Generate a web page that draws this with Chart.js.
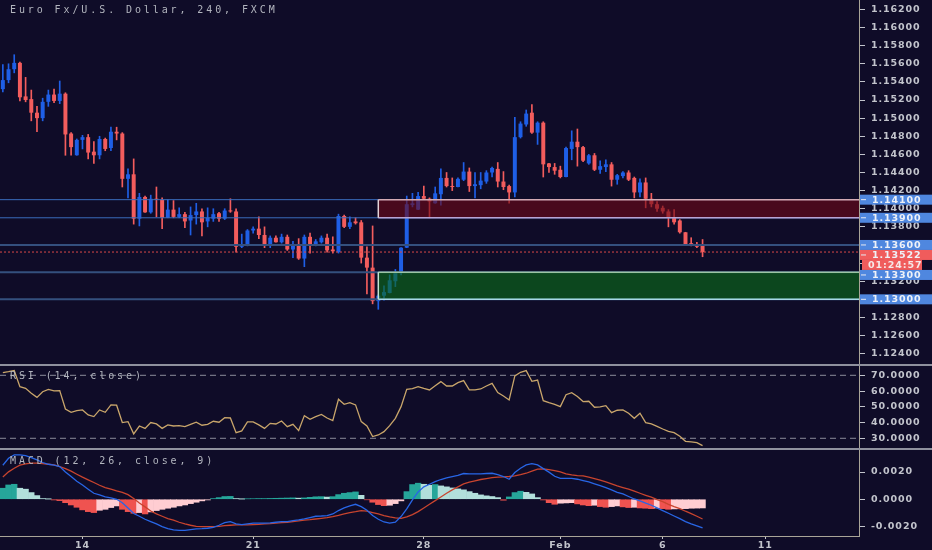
<!DOCTYPE html>
<html lang="en">
<head>
    <meta charset="UTF-8">
    <title>Euro Fx/U.S. Dollar, 240, FXCM</title>
    <script src="https://cdn.jsdelivr.net/npm/chart.js"></script>
    <style>
        html, body {
            margin: 0;
            padding: 0;
            background-color: #0f0c28;
            overflow: hidden;
        }

        .pane {
            position: absolute;
            left: 0;
            width: 932px;
        }

        .sep {
            position: absolute;
            left: 0;
            width: 932px;
            height: 2px;
            background-color: #8f919e;
        }
    </style>
</head>
<body>
<div class="pane" style="top: 0; height: 365px;"><canvas id="priceChart"></canvas></div>
<div class="pane" style="top: 365px; height: 84px;"><canvas id="rsiChart"></canvas></div>
<div class="pane" style="top: 450px; height: 100px;"><canvas id="macdChart"></canvas></div>
<div class="sep" style="top: 364px;"></div>
<div class="sep" style="top: 448px;"></div>

<script>
    // 4h candles, left to right
    const opens = [
        1.1532, 1.1542, 1.1554, 1.1561, 1.1524, 1.1521, 1.1506, 1.1500, 1.1518, 1.1526,
        1.1519, 1.1527, 1.1483, 1.1459, 1.1476, 1.1479, 1.1463, 1.1459, 1.1477, 1.1467,
        1.1485, 1.1483, 1.1433, 1.1438, 1.1389, 1.1413, 1.1396, 1.1411, 1.1410, 1.1390,
        1.1399, 1.1391, 1.1394, 1.1387, 1.1393, 1.1397, 1.1386, 1.1389, 1.1395, 1.1389,
        1.1398, 1.1397, 1.1358, 1.1359, 1.1376, 1.1378, 1.1371, 1.1359, 1.1368, 1.1363,
        1.1369, 1.1355, 1.1361, 1.1345, 1.1369, 1.1359, 1.1363, 1.1368, 1.1355, 1.1352,
        1.1392, 1.1380, 1.1386, 1.1385, 1.1346, 1.1335, 1.1298, 1.1304, 1.1307, 1.1320,
        1.1329, 1.1357, 1.1404, 1.1399, 1.1414, 1.1411, 1.1406, 1.1416, 1.1434, 1.1425,
        1.1424, 1.1432, 1.1441, 1.1425, 1.1426, 1.1430, 1.1440, 1.1444, 1.1430, 1.1425,
        1.1418, 1.1479, 1.1493, 1.1506, 1.1484, 1.1495, 1.1450, 1.1446, 1.1443, 1.1435,
        1.1466, 1.1474, 1.1468, 1.1450, 1.1459, 1.1443, 1.1446, 1.1449, 1.1432, 1.1436,
        1.1440, 1.1434, 1.1418, 1.1429, 1.1411, 1.1405, 1.1401, 1.1397, 1.1390, 1.1387,
        1.1374, 1.1362, 1.1361, 1.1359
    ];
    const highs = [
        1.1559, 1.1560, 1.1570, 1.1562, 1.1545, 1.1531, 1.1513, 1.1522, 1.1531, 1.1532,
        1.1541, 1.1528, 1.1484, 1.1477, 1.1481, 1.1482, 1.1474, 1.1480, 1.1478, 1.1490,
        1.1490, 1.1484, 1.1444, 1.1455, 1.1417, 1.1414, 1.1415, 1.1424, 1.1412, 1.1410,
        1.1409, 1.1401, 1.1396, 1.1402, 1.1406, 1.1400, 1.1401, 1.1400, 1.1396, 1.1400,
        1.1411, 1.1400, 1.1372, 1.1377, 1.1380, 1.1391, 1.1380, 1.1370, 1.1370, 1.1372,
        1.1371, 1.1364, 1.1367, 1.1371, 1.1373, 1.1366, 1.1370, 1.1372, 1.1369, 1.1394,
        1.1393, 1.1391, 1.1390, 1.1387, 1.1358, 1.1381, 1.1305, 1.1315, 1.1327, 1.1333,
        1.1357, 1.1414, 1.1417, 1.1418, 1.1425, 1.1412, 1.1424, 1.1444, 1.1440, 1.1434,
        1.1434, 1.1451, 1.1445, 1.1440, 1.1440, 1.1442, 1.1446, 1.1451, 1.1441, 1.1426,
        1.1501, 1.1496, 1.1509, 1.1515, 1.1496, 1.1496, 1.1450, 1.1450, 1.1447, 1.1468,
        1.1486, 1.1488, 1.1469, 1.1460, 1.1461, 1.1453, 1.1454, 1.1451, 1.1438, 1.1441,
        1.1442, 1.1435, 1.1433, 1.1434, 1.1417, 1.1408, 1.1403, 1.1399, 1.1399, 1.1388,
        1.1374, 1.1368, 1.1363, 1.1366
    ];
    const lows = [
        1.1529, 1.1539, 1.1550, 1.1519, 1.1518, 1.1497, 1.1485, 1.1497, 1.1513, 1.1517,
        1.1516, 1.1459, 1.1459, 1.1459, 1.1466, 1.1455, 1.1450, 1.1455, 1.1464, 1.1464,
        1.1476, 1.1424, 1.1412, 1.1383, 1.1381, 1.1396, 1.1395, 1.1391, 1.1378, 1.1390,
        1.1390, 1.1390, 1.1379, 1.1371, 1.1383, 1.1370, 1.1380, 1.1386, 1.1386, 1.1388,
        1.1396, 1.1352, 1.1357, 1.1359, 1.1373, 1.1367, 1.1357, 1.1357, 1.1363, 1.1362,
        1.1354, 1.1346, 1.1344, 1.1336, 1.1351, 1.1359, 1.1362, 1.1352, 1.1351, 1.1351,
        1.1379, 1.1378, 1.1383, 1.1340, 1.1306, 1.1295, 1.1289, 1.1299, 1.1307, 1.1314,
        1.1327, 1.1357, 1.1402, 1.1399, 1.1410, 1.1390, 1.1406, 1.1404, 1.1424, 1.1420,
        1.1424, 1.1431, 1.1419, 1.1412, 1.1422, 1.1428, 1.1435, 1.1424, 1.1421, 1.1406,
        1.1413, 1.1478, 1.1491, 1.1483, 1.1471, 1.1435, 1.1440, 1.1438, 1.1434, 1.1435,
        1.1454, 1.1447, 1.1452, 1.1449, 1.1442, 1.1439, 1.1441, 1.1425, 1.1427, 1.1434,
        1.1431, 1.1412, 1.1413, 1.1401, 1.1402, 1.1397, 1.1395, 1.1380, 1.1383, 1.1373,
        1.1360, 1.1359, 1.1357, 1.1347
    ];
    const closes = [
        1.1542, 1.1554, 1.1561, 1.1523, 1.1520, 1.1506, 1.1500, 1.1518, 1.1526, 1.1519,
        1.1527, 1.1482, 1.1468, 1.1476, 1.1479, 1.1462, 1.1459, 1.1477, 1.1466, 1.1485,
        1.1483, 1.1433, 1.1438, 1.1389, 1.1413, 1.1396, 1.1411, 1.1410, 1.1390, 1.1399,
        1.1391, 1.1394, 1.1386, 1.1393, 1.1397, 1.1385, 1.1390, 1.1394, 1.1389, 1.1398,
        1.1397, 1.1358, 1.1361, 1.1376, 1.1378, 1.1371, 1.1359, 1.1368, 1.1363, 1.1369,
        1.1355, 1.1361, 1.1345, 1.1369, 1.1359, 1.1364, 1.1368, 1.1354, 1.1353, 1.1392,
        1.1380, 1.1385, 1.1384, 1.1346, 1.1335, 1.1298, 1.1304, 1.1308, 1.1321, 1.1329,
        1.1357, 1.1405, 1.1406, 1.1414, 1.1411, 1.1408, 1.1417, 1.1434, 1.1425, 1.1424,
        1.1433, 1.1441, 1.1425, 1.1427, 1.1431, 1.1440, 1.1445, 1.1430, 1.1424, 1.1418,
        1.1479, 1.1494, 1.1505, 1.1484, 1.1495, 1.1449, 1.1446, 1.1442, 1.1435, 1.1467,
        1.1474, 1.1468, 1.1453, 1.1459, 1.1443, 1.1447, 1.1449, 1.1432, 1.1437, 1.1440,
        1.1432, 1.1418, 1.1429, 1.1411, 1.1405, 1.1400, 1.1397, 1.1390, 1.1385, 1.1374,
        1.1361, 1.1360, 1.1358, 1.13522
    ];

    // RSI (14, close)
    const rsiValues = [
        71.7, 72.3, 73.0, 62.8, 61.7, 58.6, 56.0, 59.6, 61.1, 60.1,
        60.3, 48.6, 46.5, 47.6, 48.0, 44.8, 43.8, 48.0, 46.5, 51.2,
        51.0, 40.0, 40.6, 32.8, 37.8, 36.3, 40.0, 39.1, 36.3, 38.5,
        37.8, 38.0, 37.4, 38.9, 40.2, 38.3, 38.9, 40.8, 40.2, 43.1,
        42.9, 33.6, 34.7, 40.4, 40.4, 38.5, 36.3, 39.5, 39.1, 41.0,
        37.4, 38.9, 34.9, 44.4, 42.1, 43.8, 45.2, 42.9, 41.2, 54.8,
        51.6, 52.6, 51.2, 40.6, 37.8, 31.1, 32.1, 34.2, 38.0, 42.7,
        50.1, 61.1, 61.5, 62.8, 61.7, 60.7, 63.4, 66.0, 63.2, 63.2,
        65.3, 66.6, 60.7, 60.7, 61.3, 63.2, 64.9, 59.0, 56.9, 54.3,
        69.6, 71.9, 73.0, 66.2, 67.0, 53.9, 52.6, 51.6, 50.1, 57.7,
        59.0, 56.5, 53.3, 53.5, 49.7, 49.9, 50.7, 46.3, 47.8, 48.0,
        45.9, 42.7, 45.9, 39.9, 39.1, 37.6, 35.9, 34.4, 33.6, 31.3,
        28.1, 27.7, 27.2, 25.3
    ];

    // MACD (12, 26, close, 9), units of 0.0001
    const macdLine = [
        25.0, 30.1, 32.6, 32.6, 32.1, 30.6, 28.9, 27.0, 25.7, 25.0,
        24.0, 20.1, 16.7, 13.2, 10.5, 7.4, 4.4, 3.2, 1.7, 1.0,
        0.0, -2.5, -6.4, -10.5, -12.5, -14.7, -16.4, -18.1, -20.1, -21.6,
        -22.5, -22.8, -22.8, -22.3, -21.8, -21.6, -21.3, -20.6, -19.1, -17.2,
        -16.4, -18.1, -18.6, -18.1, -17.6, -17.6, -17.6, -17.4, -16.9, -16.4,
        -16.4, -15.7, -15.2, -14.5, -13.5, -12.5, -12.3, -12.0, -10.8, -8.3,
        -6.4, -4.9, -3.7, -5.4, -8.1, -12.0, -14.7, -16.7, -17.6, -16.9,
        -12.7, -7.1, -0.5, 5.4, 9.1, 11.0, 13.0, 14.5, 15.7, 16.7,
        17.6, 18.9, 18.6, 18.6, 18.6, 18.9, 19.1, 18.1, 16.7, 14.7,
        19.6, 22.8, 25.2, 26.2, 25.2, 22.5, 19.9, 16.9, 15.4, 15.4,
        15.4, 14.7, 13.7, 12.7, 11.3, 10.0, 8.6, 6.9, 5.1, 3.9,
        2.0, 0.2, -1.2, -2.9, -4.4, -6.4, -8.3, -10.3, -12.3, -14.2,
        -16.4, -18.1, -19.6, -21.1
    ];
    const signalLine = [
        16.4, 20.1, 22.8, 25.0, 26.0, 26.5, 26.5, 26.2, 25.7, 25.2,
        24.0, 22.5, 20.6, 18.4, 16.2, 14.2, 12.3, 10.3, 8.6, 7.4,
        6.1, 5.1, 3.4, 0.5, -2.7, -5.6, -8.6, -10.8, -12.5, -14.2,
        -15.4, -16.9, -18.1, -19.1, -19.9, -20.1, -20.1, -20.1, -19.9, -19.4,
        -19.1, -18.9, -18.9, -18.9, -18.6, -18.4, -18.1, -17.9, -17.6, -17.2,
        -16.9, -16.4, -15.9, -15.4, -15.0, -14.5, -14.0, -13.5, -12.7, -11.8,
        -10.8, -9.8, -9.1, -8.3, -8.8, -9.8, -10.8, -12.0, -13.0, -13.7,
        -14.0, -13.0, -11.3, -9.1, -6.4, -3.7, -1.0, 1.7, 4.4, 6.9,
        9.1, 11.3, 12.5, 13.5, 14.5, 15.2, 15.9, 16.2, 16.4, 16.7,
        17.2, 18.1, 19.1, 20.6, 22.1, 22.3, 21.8, 21.1, 20.1, 18.6,
        17.9, 17.4, 17.2, 16.2, 15.2, 14.0, 12.7, 11.3, 9.8, 8.6,
        7.4, 5.9, 4.4, 2.9, 1.5, -0.2, -1.7, -3.7, -5.4, -6.9,
        -8.8, -10.5, -12.5, -14.5
    ];
    const histValues = [
        8.1, 10.5, 11.0, 8.1, 7.4, 4.9, 2.7, 0.5, 0.1, -0.5,
        -1.0, -2.5, -4.2, -5.9, -7.8, -9.1, -9.8, -8.1, -7.4, -6.1,
        -4.9, -7.4, -9.1, -10.3, -9.8, -10.8, -9.3, -8.3, -7.4, -6.6,
        -5.9, -4.9, -4.2, -3.2, -2.2, -1.2, -0.5, 0.5, 1.2, 2.0,
        2.1, 0.5, 0.1, 0.3, 0.4, 0.5, 0.5, 0.6, 0.7, 0.8,
        0.9, 1.0, 0.8, 1.0, 1.4, 1.8, 1.9, 1.6, 1.9, 3.4,
        4.4, 4.9, 5.4, 2.9, -0.4, -2.2, -3.9, -4.7, -4.4, -3.2,
        -1.2, 5.6, 10.8, 11.8, 11.0, 10.3, 10.8, 9.8, 9.1, 8.3,
        7.6, 6.9, 5.6, 4.4, 3.2, 2.5, 2.0, 1.2, -0.7, 1.7,
        4.9, 5.9, 5.1, 3.9, 1.2, -0.5, -2.5, -3.7, -2.9, -2.7,
        -2.5, -3.4, -4.2, -4.7, -4.4, -5.4, -5.9, -5.4, -4.9, -5.6,
        -6.1, -5.9, -6.4, -6.6, -6.9, -6.4, -6.9, -7.4, -7.1, -7.0,
        -6.9, -6.6, -6.5, -6.4
    ];

    // шкалы и подписи
    const TOTAL_SLOTS = 151;
    const dateIndex = [14, 44, 74, 98, 116, 134];
    const dateLabels = ['14', '21', '28', 'Feb', '6', '11'];
    const priceTicks = [1.124, 1.126, 1.128, 1.130, 1.132, 1.134, 1.136, 1.138, 1.140, 1.142,
        1.144, 1.146, 1.148, 1.150, 1.152, 1.154, 1.156, 1.158, 1.160, 1.162];
    const rsiTicks = [30, 40, 50, 60, 70];
    const macdTicks = [-0.002, 0, 0.002];

    // уровни и зоны
    const levelsThin = [1.141, 1.139];
    const levelsWide = [1.136, 1.133, 1.130];
    const supplyZone = [1.139, 1.141];
    const demandZone = [1.130, 1.133];
    const zoneStart = 66;
    const lastPrice = 1.13522;
    const countdown = '01:24:57';

    const BULL = '#1f5fe6';
    const BEAR = '#f35d5d';
    const TEXT = '#c2c4cc';
    const AXIS_W = 73;
    const MONO = 'DejaVu Sans Mono';
    const AXIS_FONT = {family: 'DejaVu Sans', size: 9.5, weight: 'bold'};
    const AXIS_FONT_CSS = 'bold 9.5px DejaVu Sans';

    const slots = Array.from({length: TOTAL_SLOTS}, (_, i) => i);
    const candleColors = closes.map((c, i) => c >= opens[i] ? BULL : BEAR);

    // без внутренних отступов под подписи — область графика на всю высоту
    function fixedWidth(axis) {
        axis.width = AXIS_W;
        axis.paddingTop = 0;
        axis.paddingBottom = 0;
    }

    function rightAxis(min, max, ticks, digits) {
        return {
            position: 'right',
            min: min,
            max: max,
            afterFit: fixedWidth,
            afterBuildTicks: axis => {
                axis.ticks = ticks.map(v => ({value: v}));
            },
            border: {display: true, color: '#a9a598', width: 1},
            grid: {drawOnChartArea: false, drawTicks: true, tickLength: 6, color: TEXT},
            ticks: {
                color: TEXT,
                padding: 6,
                font: AXIS_FONT,
                callback: v => v.toFixed(digits)
            }
        };
    }

    function hiddenX() {
        return {type: 'category', offset: true, display: false};
    }

    // разрядка шрифта шкал
    const spacingPlugin = {
        id: 'spacing',
        beforeDraw(chart) {
            chart.ctx.letterSpacing = '0.9px';
        }
    };

    function drawLabel(ctx, text, x, y) {
        ctx.save();
        ctx.font = '10px ' + MONO;
        ctx.letterSpacing = '2.9px';
        ctx.fillStyle = '#b2b5be';
        ctx.textBaseline = 'middle';
        ctx.textAlign = 'left';
        ctx.fillText(text, x, y);
        ctx.restore();
    }

    function hLine(ctx, area, y, color, width, dash) {
        ctx.save();
        ctx.strokeStyle = color;
        ctx.lineWidth = width;
        ctx.setLineDash(dash || []);
        ctx.beginPath();
        ctx.moveTo(area.left, y);
        ctx.lineTo(area.right, y);
        ctx.stroke();
        ctx.restore();
    }

    function axisBox(ctx, x0, x1, y, fill, text) {
        ctx.save();
        ctx.fillStyle = fill;
        ctx.fillRect(x0, y - 5, x1 - x0, 10);
        ctx.strokeStyle = '#e6e9f2';
        ctx.lineWidth = 1;
        ctx.beginPath();
        ctx.moveTo(x0 + 1, y);
        ctx.lineTo(x0 + 6, y);
        ctx.stroke();
        ctx.font = AXIS_FONT_CSS;
        ctx.letterSpacing = '0.9px';
        ctx.fillStyle = '#eef1f8';
        ctx.textBaseline = 'middle';
        ctx.fillText(text, x0 + 12, y + 0.5);
        ctx.restore();
    }

    // Рисование уровней, зон и меток на ценовой шкале
    const pricePlugin = {
        id: 'priceDecor',
        afterDatasetsDraw(chart) {
            const ctx = chart.ctx;
            const area = chart.chartArea;
            const y = chart.scales.y;
            const x = chart.scales.x;

            levelsThin.forEach(v => hLine(ctx, area, y.getPixelForValue(v), '#3a6cbc', 1));
            levelsWide.forEach(v => hLine(ctx, area, y.getPixelForValue(v), '#34507e', 2));

            const left = x.getPixelForValue(zoneStart);
            const zones = [
                {r: supplyZone, fill: 'rgba(110,8,22,0.62)', top: '#d3aab4', bottom: '#b8a4d4', side: '#e4d4d8'},
                {r: demandZone, fill: 'rgba(12,108,24,0.62)', top: '#9cc4a4', bottom: '#a8d8e6', side: '#c4e2d2'}
            ];
            zones.forEach(z => {
                const yTop = y.getPixelForValue(z.r[1]);
                const yBot = y.getPixelForValue(z.r[0]);
                ctx.save();
                ctx.fillStyle = z.fill;
                ctx.fillRect(left, yTop, area.right - left, yBot - yTop);
                ctx.lineWidth = 1.5;
                ctx.strokeStyle = z.top;
                ctx.beginPath();
                ctx.moveTo(left, yTop);
                ctx.lineTo(area.right, yTop);
                ctx.stroke();
                ctx.strokeStyle = z.bottom;
                ctx.beginPath();
                ctx.moveTo(left, yBot);
                ctx.lineTo(area.right, yBot);
                ctx.stroke();
                ctx.strokeStyle = z.side;
                ctx.beginPath();
                ctx.moveTo(left, yTop);
                ctx.lineTo(left, yBot);
                ctx.stroke();
                ctx.restore();
            });

            hLine(ctx, area, y.getPixelForValue(lastPrice), '#d94848', 1, [2, 2]);
        },
        afterDraw(chart) {
            const ctx = chart.ctx;
            const area = chart.chartArea;
            const y = chart.scales.y;
            const x0 = area.right + 1;
            const x1 = chart.width;

            drawLabel(ctx, 'Euro Fx/U.S. Dollar, 240, FXCM', 10, 10);

            const BLUE_BOX = '#4f87df';
            const RED_BOX = '#f05c5c';
            axisBox(ctx, x0, x1, y.getPixelForValue(1.141), BLUE_BOX, '1.14100');
            axisBox(ctx, x0, x1, y.getPixelForValue(1.139), BLUE_BOX, '1.13900');
            const y136 = y.getPixelForValue(1.136);
            axisBox(ctx, x0, x1, y136, BLUE_BOX, '1.13600');
            const yLast = Math.max(y.getPixelForValue(lastPrice), y136 + 10);
            axisBox(ctx, x0, x1, yLast, RED_BOX, lastPrice.toFixed(5));
            const yTimer = yLast + 10;
            ctx.save();
            ctx.fillStyle = RED_BOX;
            ctx.fillRect(x0 + 2, yTimer - 5, 60, 10);
            ctx.font = AXIS_FONT_CSS;
            ctx.letterSpacing = '0.9px';
            ctx.fillStyle = '#f6e8e8';
            ctx.textBaseline = 'middle';
            ctx.fillText(countdown, x0 + 8, yTimer + 0.5);
            ctx.restore();
            axisBox(ctx, x0, x1, Math.max(y.getPixelForValue(1.133), yTimer + 10), BLUE_BOX, '1.13300');
            axisBox(ctx, x0, x1, y.getPixelForValue(1.130), BLUE_BOX, '1.13000');
        }
    };

    const rsiPlugin = {
        id: 'rsiDecor',
        beforeDatasetsDraw(chart) {
            const y = chart.scales.y;
            [70, 30].forEach(v => hLine(chart.ctx, chart.chartArea, y.getPixelForValue(v), '#8a8c99', 1, [6, 4]));
        },
        afterDraw(chart) {
            drawLabel(chart.ctx, 'RSI (14, close)', 10, 11);
        }
    };

    const macdPlugin = {
        id: 'macdDecor',
        afterDraw(chart) {
            drawLabel(chart.ctx, 'MACD (12, 26, close, 9)', 10, 11);
        }
    };

    // Цена: тени и тела свечей
    new Chart(document.getElementById('priceChart'), {
        type: 'bar',
        data: {
            labels: slots,
            datasets: [
                {
                    data: lows.map((l, i) => [l, highs[i]]),
                    backgroundColor: candleColors,
                    barThickness: 1,
                    grouped: false
                },
                {
                    data: opens.map((o, i) => [o, closes[i]]),
                    backgroundColor: candleColors,
                    barPercentage: 0.7,
                    categoryPercentage: 1,
                    minBarLength: 1,
                    grouped: false
                }
            ]
        },
        options: {
            responsive: true,
            maintainAspectRatio: false,
            animation: false,
            layout: {padding: 0},
            plugins: {legend: {display: false}, tooltip: {enabled: false}},
            scales: {
                x: hiddenX(),
                y: rightAxis(1.12275, 1.16304, priceTicks, 5)
            }
        },
        plugins: [spacingPlugin, pricePlugin]
    });

    // RSI
    new Chart(document.getElementById('rsiChart'), {
        type: 'line',
        data: {
            labels: slots,
            datasets: [{
                data: rsiValues,
                borderColor: '#c9a66b',
                borderWidth: 1.3,
                pointRadius: 0,
                tension: 0
            }]
        },
        options: {
            responsive: true,
            maintainAspectRatio: false,
            animation: false,
            layout: {padding: 0},
            plugins: {legend: {display: false}, tooltip: {enabled: false}},
            scales: {
                x: hiddenX(),
                y: rightAxis(23.2, 76.54, rsiTicks, 4)
            }
        },
        plugins: [spacingPlugin, rsiPlugin]
    });

    // MACD: гистограмма цвета по росту/падению
    const histColors = histValues.map((h, i) => {
        const prev = i > 0 ? histValues[i - 1] : h;
        if (h >= 0) return h >= prev ? '#26a69a' : '#b2dfdb';
        return h <= prev ? '#ef5350' : '#ffcdd2';
    });
    const scaleE4 = arr => arr.map(v => v / 10000);

    new Chart(document.getElementById('macdChart'), {
        type: 'bar',
        data: {
            labels: slots,
            datasets: [
                {
                    type: 'line',
                    data: scaleE4(macdLine),
                    borderColor: '#2866e6',
                    borderWidth: 1.3,
                    pointRadius: 0,
                    order: 0
                },
                {
                    type: 'line',
                    data: scaleE4(signalLine),
                    borderColor: '#c8442e',
                    borderWidth: 1.3,
                    pointRadius: 0,
                    order: 1
                },
                {
                    data: scaleE4(histValues),
                    backgroundColor: histColors,
                    barPercentage: 1,
                    categoryPercentage: 1,
                    order: 2
                }
            ]
        },
        options: {
            responsive: true,
            maintainAspectRatio: false,
            animation: false,
            layout: {padding: 0},
            plugins: {legend: {display: false}, tooltip: {enabled: false}},
            scales: {
                x: {
                    type: 'category',
                    offset: true,
                    afterFit: axis => {
                        axis.height = 14;
                        axis.paddingLeft = 0;
                        axis.paddingRight = 0;
                    },
                    border: {display: true, color: '#a9a598', width: 1},
                    grid: {
                        offset: false,
                        drawOnChartArea: false,
                        tickLength: 3,
                        color: c => dateIndex.includes(c.index) ? TEXT : 'rgba(0,0,0,0)'
                    },
                    ticks: {
                        autoSkip: false,
                        maxRotation: 0,
                        padding: 1,
                        color: TEXT,
                        font: AXIS_FONT,
                        callback: (v, i) => {
                            const k = dateIndex.indexOf(i);
                            return k >= 0 ? dateLabels[k] : '';
                        }
                    }
                },
                y: rightAxis(-0.0027, 0.003618, macdTicks, 4)
            }
        },
        plugins: [spacingPlugin, macdPlugin]
    });
</script>

</body>
</html>
